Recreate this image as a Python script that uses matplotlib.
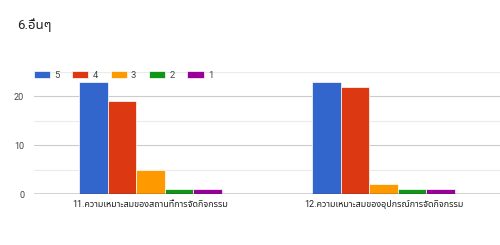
import matplotlib
matplotlib.use("Agg")
import matplotlib.pyplot as plt
from matplotlib import font_manager
import numpy as np

title = "6.อื่นๆ"
categories = ["11.ความเหมาะสมของสถานที่การจัดกิจกรรม",
              "12.ความเหมาะสมของอุปกรณ์การจัดกิจกรรม"]
series_names = ["5", "4", "3", "2", "1"]
values = [
    [23, 23],  # 5
    [19, 22],  # 4
    [5, 2],    # 3
    [1, 1],    # 2
    [1, 1],    # 1
]
colors = ["#3366cc", "#dc3912", "#ff9900", "#109618", "#990099"]

# pick installed fonts only, Thai fallback after Roboto
installed = {f.name for f in font_manager.fontManager.ttflist}
wanted = ["Roboto", "Noto Sans Thai", "Sarabun", "Kanit", "DejaVu Sans"]
fams = [f for f in wanted if f in installed] or ["DejaVu Sans"]
plt.rcParams["font.family"] = fams

fig = plt.figure(figsize=(5, 2.45), dpi=100)
ax = fig.add_axes([0.068, 0.208, 0.932, 0.498])

n = len(series_names)
bw = 0.123
x = np.arange(len(categories))
for i in range(n):
    ax.bar(x + (i - (n - 1) / 2) * bw, values[i], width=bw, color=colors[i],
           edgecolor="white", linewidth=0.5, label=series_names[i], zorder=3)

ax.set_xlim(-0.5, 1.5)
ax.set_ylim(0, 25)
ax.set_yticks([0, 10, 20])
ax.set_yticks([5, 15, 25], minor=True)
ax.grid(axis="y", which="major", color="#cccccc", linewidth=0.8, zorder=0)
ax.grid(axis="y", which="minor", color="#ebebeb", linewidth=0.8, zorder=0)
ax.axhline(0, color="#333333", linewidth=1, zorder=4)
ax.set_xticks(x)
ax.set_xticklabels(categories, fontsize=6.5, color="#222222")
ax.tick_params(axis="x", length=0, pad=4)
ax.tick_params(axis="y", which="both", length=0, labelsize=6.5,
               labelcolor="#444444", pad=7)
for s in ax.spines.values():
    s.set_visible(False)

ax.legend(loc="center left", bbox_to_anchor=(0.0, 0.971), ncol=5, frameon=False,
          fontsize=6.8, handlelength=1.7, handleheight=0.75,
          handletextpad=0.45, columnspacing=1.35, borderaxespad=0,
          borderpad=0, labelcolor="#444444")

fig.text(0.034, 0.898, title, fontsize=9.5, color="#202124", va="center")

fig.savefig("out.png", dpi=100)
